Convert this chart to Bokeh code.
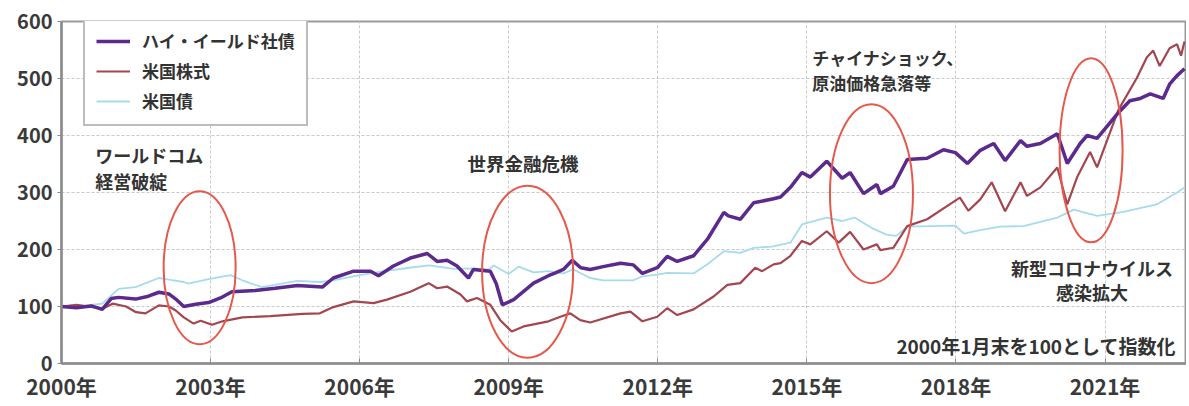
from bokeh.plotting import figure
from bokeh.models import (Range1d, FixedTicker, Label, Legend, LegendItem,
                          ColumnDataSource)
from bokeh.embed import file_html
from bokeh.resources import INLINE

FONT = "Noto Sans CJK JP"

# ---------------- data (index, end of Jan 2000 = 100) ----------------
hy_years = [2000.0, 2000.3, 2000.6, 2000.82, 2001.0, 2001.15, 2001.49, 2001.75,
            2001.96, 2002.16, 2002.3, 2002.46, 2002.7, 2002.96, 2003.2, 2003.43,
            2003.9, 2004.3, 2004.75, 2005.25, 2005.47, 2005.88, 2006.22, 2006.38,
            2006.68, 2007.02, 2007.36, 2007.56, 2007.76, 2007.96, 2008.19, 2008.29,
            2008.63, 2008.75, 2008.87, 2009.1, 2009.5, 2009.8, 2009.94, 2010.1,
            2010.28, 2010.45, 2010.64, 2010.9, 2011.25, 2011.51, 2011.69, 2011.99,
            2012.19, 2012.39, 2012.72, 2013.0, 2013.33, 2013.42, 2013.66, 2013.93,
            2014.33, 2014.47, 2014.67, 2014.9, 2015.07, 2015.4, 2015.71, 2015.87,
            2016.14, 2016.41, 2016.48, 2016.74, 2017.02, 2017.42, 2017.75, 2017.99,
            2018.23, 2018.49, 2018.76, 2018.99, 2019.3, 2019.43, 2019.7, 2020.04,
            2020.24, 2020.5, 2020.64, 2020.84, 2021.27, 2021.5, 2021.71, 2021.91,
            2022.17, 2022.3, 2022.45, 2022.6]
hy_values = [100, 98, 101, 95, 114, 116, 113, 118,
             125, 122, 113, 100, 104, 107, 115, 126,
             128, 132, 137, 134, 150, 162, 162, 154,
             171, 185, 193, 179, 181, 171, 150, 165,
             162, 140, 103, 112, 141, 154, 159, 165,
             181, 168, 165, 170, 176, 173, 158, 168,
             188, 179, 189, 218, 265, 259, 253, 282,
             289, 292, 309, 335, 327, 355, 325, 335,
             298, 314, 298, 311, 358, 360, 375, 370,
             351, 374, 386, 356, 391, 381, 386, 403,
             351, 386, 400, 395, 440, 461, 465, 473,
             465, 490, 505, 517]

eq_years = [2000.0, 2000.3, 2000.55, 2000.82, 2001.03, 2001.3, 2001.5, 2001.69,
            2001.96, 2002.16, 2002.3, 2002.46, 2002.66, 2002.8, 2003.03, 2003.24,
            2003.64, 2004.2, 2004.85, 2005.2, 2005.47, 2005.88, 2006.28, 2006.55,
            2007.02, 2007.39, 2007.56, 2007.76, 2008.03, 2008.16, 2008.36, 2008.63,
            2008.83, 2009.06, 2009.3, 2009.8, 2010.04, 2010.24, 2010.44, 2010.64,
            2011.25, 2011.45, 2011.69, 2011.99, 2012.19, 2012.39, 2012.72, 2013.13,
            2013.4, 2013.66, 2013.96, 2014.1, 2014.33, 2014.47, 2014.67, 2014.9,
            2015.07, 2015.4, 2015.64, 2015.87, 2016.14, 2016.41, 2016.48, 2016.74,
            2017.02, 2017.42, 2017.82, 2018.08, 2018.25, 2018.49, 2018.72, 2018.99,
            2019.3, 2019.43, 2019.7, 2020.04, 2020.24, 2020.44, 2020.7, 2020.84,
            2021.27, 2021.64, 2021.84, 2021.97, 2022.1, 2022.3, 2022.45, 2022.53,
            2022.6]
eq_values = [100, 103, 100, 96, 105, 100, 90, 88,
             102, 100, 93, 81, 70, 75, 68, 74,
             81, 83, 87, 88, 99, 109, 106, 112,
             126, 141, 132, 135, 121, 109, 115, 103,
             76, 56, 65, 74, 82, 88, 76, 72,
             88, 91, 74, 82, 97, 85, 95, 118,
             138, 141, 168, 162, 174, 176, 189, 215,
             209, 232, 212, 231, 200, 209, 199, 203,
             241, 253, 276, 291, 268, 288, 318, 267,
             318, 294, 309, 344, 279, 327, 371, 344,
             445, 501, 537, 549, 522, 553, 560, 540,
             565]

bd_years = [2000.0, 2000.5, 2000.82, 2001.15, 2001.49, 2001.96, 2002.16, 2002.46,
            2002.55, 2002.96, 2003.4, 2003.64, 2003.8, 2004.03, 2004.75, 2005.2,
            2005.47, 2006.0, 2006.5, 2007.0, 2007.4, 2007.9, 2008.3, 2008.6,
            2008.7, 2009.0, 2009.2, 2009.5, 2009.8, 2010.1, 2010.3, 2010.64,
            2010.9, 2011.51, 2011.69, 2011.99, 2012.19, 2012.72, 2013.0, 2013.33,
            2013.66, 2013.93, 2014.3, 2014.67, 2014.9, 2015.4, 2015.71, 2015.96,
            2016.3, 2016.6, 2016.8, 2017.02, 2017.5, 2017.99, 2018.16, 2018.49,
            2018.89, 2019.36, 2020.04, 2020.37, 2020.84, 2021.37, 2022.04, 2022.45,
            2022.6]
bd_values = [100, 102, 105, 131, 134, 150, 147, 143,
             140, 148, 155, 146, 141, 134, 145, 143,
             146, 155, 162, 168, 172, 166, 167, 165,
             172, 157, 170, 160, 162, 158, 165, 150,
             146, 146, 153, 156, 159, 158, 174, 197,
             194, 203, 205, 212, 244, 256, 250, 256,
             238, 226, 224, 240, 241, 242, 228, 234,
             240, 241, 256, 270, 259, 266, 279, 300,
             309]

series_names = ["ハイ・イールド社債", "米国株式", "米国債"]
x_ticks = [2000, 2003, 2006, 2009, 2012, 2015, 2018, 2021]
x_tick_labels = {t: f"{t}年" for t in x_ticks}
y_ticks = [0, 100, 200, 300, 400, 500, 600]

# ---------------- figure ----------------
p = figure(width=1186, height=403, output_backend="svg", toolbar_location=None,
           x_range=Range1d(2000, 2022.64), y_range=Range1d(0, 600),
           min_border_left=61, min_border_right=0, min_border_top=21,
           min_border_bottom=40)
p.background_fill_color = "white"
p.border_fill_color = "white"
p.outline_line_color = "#9a9a9a"
p.outline_line_width = 2

# grid
p.xgrid.ticker = FixedTicker(ticks=x_ticks)
p.ygrid.ticker = FixedTicker(ticks=y_ticks)
for g in (p.xgrid, p.ygrid):
    g.grid_line_color = "#c9c9c9"
    g.grid_line_dash = "3 2"
    g.grid_line_width = 1

# axes
p.xaxis.ticker = FixedTicker(ticks=x_ticks)
p.xaxis.major_label_overrides = x_tick_labels
p.yaxis.ticker = FixedTicker(ticks=y_ticks)
for ax in (p.xaxis, p.yaxis):
    ax.axis_line_color = "#8c8c8c"
    ax.axis_line_width = 2.5
    ax.major_tick_line_color = "#8c8c8c"
    ax.minor_tick_line_color = None
    ax.major_label_text_font = FONT
    ax.major_label_text_font_style = "bold"
    ax.major_label_text_color = "#3a3a3a"
p.xaxis.major_tick_in = 5
p.xaxis.major_tick_out = 0
p.xaxis.major_label_standoff = 7
p.xaxis.major_label_text_font_size = "21px"
p.yaxis.major_tick_in = 0
p.yaxis.major_tick_out = 4
p.yaxis.major_label_standoff = 5
p.yaxis.major_label_text_font_size = "20px"

# lines
r_bd = p.line(bd_years, bd_values, line_color="#a6dbee", line_width=1.8)
r_eq = p.line(eq_years, eq_values, line_color="#a3464f", line_width=2.2)
r_hy = p.line(hy_years, hy_values, line_color="#5b2a8c", line_width=3.5)

# highlight ellipses
ell = ColumnDataSource(dict(x=[2002.78, 2009.38, 2016.3, 2020.72],
                            y=[168, 161, 298, 374],
                            w=[72, 91, 83, 63],
                            h=[153, 172, 179, 184]))
p.ellipse(x="x", y="y", width="w", height="h", source=ell,
          width_units="screen", height_units="screen",
          fill_color=None, line_color="#e5594c", line_width=2)

# annotations
def add_label(x, y, text, align="left", size="18px"):
    p.add_layout(Label(x=x, y=y, text=text, text_font=FONT, text_font_style="bold",
                       text_font_size=size, text_color="#333333",
                       text_align=align, text_baseline="middle"))

add_label(2000.68, 365, "ワールドコム")
add_label(2000.68, 321, "経営破綻")
add_label(2008.17, 351, "世界金融危機", size="18.5px")
add_label(2015.11, 537, "チャイナショック、", size="17px")
add_label(2015.11, 493, "原油価格急落等", size="17px")
add_label(2020.74, 168, "新型コロナウイルス", align="center")
add_label(2020.74, 125, "感染拡大", align="center")
add_label(2022.43, 32, "2000年1月末を100として指数化", align="right", size="19px")

# legend
legend = Legend(items=[LegendItem(label=series_names[0], renderers=[r_hy]),
                       LegendItem(label=series_names[1], renderers=[r_eq]),
                       LegendItem(label=series_names[2], renderers=[r_bd])],
                location=(22, 237))
legend.label_text_font = FONT
legend.label_text_font_style = "bold"
legend.label_text_font_size = "17px"
legend.label_text_color = "#333333"
legend.border_line_color = "#7a7a7a"
legend.border_line_width = 2
legend.padding = 11
legend.spacing = 5
legend.label_height = 22
legend.glyph_height = 22
legend.glyph_width = 34
legend.label_standoff = 12
legend.background_fill_alpha = 1
legend.margin = 0
p.add_layout(legend, "center")

open("out.html", "w").write(file_html(p, INLINE))
